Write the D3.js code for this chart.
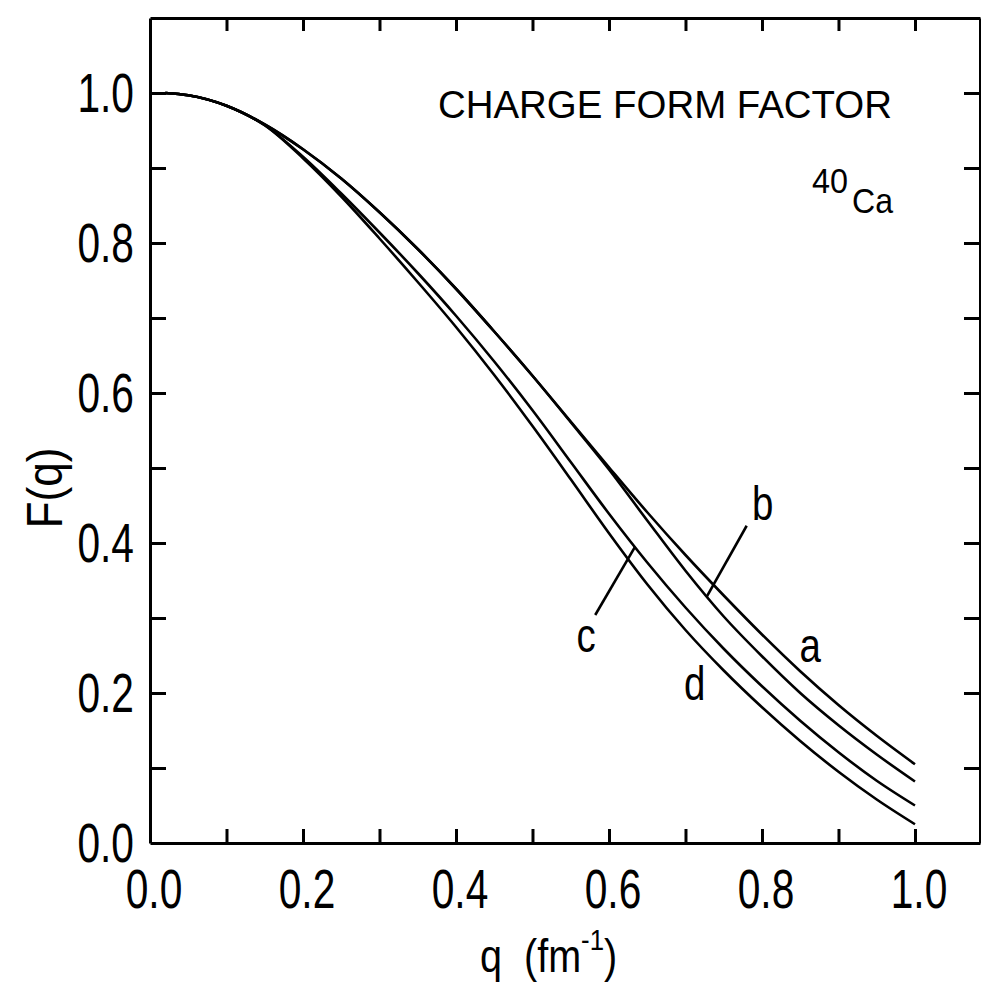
<!DOCTYPE html>
<html>
<head>
<meta charset="utf-8">
<script src="https://cdn.jsdelivr.net/npm/d3@7/dist/d3.min.js"></script>
<style>
  html, body { margin: 0; padding: 0; background: #fff; }
  svg { display: block; }
  text { font-family: "Liberation Sans", Arial, sans-serif; fill: #000; }
</style>
</head>
<body>
<svg id="chart" width="981" height="982"></svg>
<script>
// ---------------- data ----------------
const qValues = [0.02, 0.05, 0.10, 0.15, 0.20, 0.25, 0.30, 0.35, 0.40, 0.45, 0.50,
                 0.55, 0.60, 0.65, 0.70, 0.75, 0.80, 0.85, 0.90, 0.95, 1.00];
const curveA = [1.000, 0.997, 0.983, 0.958, 0.925, 0.886, 0.841, 0.792, 0.739, 0.682, 0.623,
                0.562, 0.501, 0.441, 0.384, 0.330, 0.278, 0.229, 0.184, 0.143, 0.105];
const curveB = [1.000, 0.997, 0.983, 0.958, 0.925, 0.886, 0.841, 0.792, 0.739, 0.682, 0.623,
                0.561, 0.498, 0.430, 0.363, 0.302, 0.249, 0.200, 0.157, 0.118, 0.082];
const curveC = [1.000, 0.997, 0.983, 0.957, 0.915, 0.866, 0.814, 0.760, 0.703, 0.642, 0.577,
                0.508, 0.439, 0.374, 0.314, 0.259, 0.209, 0.163, 0.121, 0.083, 0.050];
const curveD = [1.000, 0.997, 0.983, 0.957, 0.913, 0.862, 0.806, 0.748, 0.688, 0.624, 0.556,
                0.485, 0.413, 0.345, 0.284, 0.230, 0.181, 0.136, 0.095, 0.058, 0.025];
const seriesNames = ["a", "b", "c", "d"];

const xTickValues = [0.1, 0.2, 0.3, 0.4, 0.5, 0.6, 0.7, 0.8, 0.9, 1.0];
const xLabelValues = [0.0, 0.2, 0.4, 0.6, 0.8, 1.0];
const xLabelTexts = ["0.0", "0.2", "0.4", "0.6", "0.8", "1.0"];
const yTickValues = [0.1, 0.2, 0.3, 0.4, 0.5, 0.6, 0.7, 0.8, 0.9, 1.0];
const yLabelValues = [0.0, 0.2, 0.4, 0.6, 0.8, 1.0];
const yLabelTexts = ["0.0", "0.2", "0.4", "0.6", "0.8", "1.0"];

// curve label positions (data units) and leader lines
const labelPos = [
  {name: "a", q: 0.863, f: 0.241},
  {name: "b", q: 0.801, f: 0.431},
  {name: "c", q: 0.570, f: 0.255},
  {name: "d", q: 0.712, f: 0.191}
];
const leaders = [
  {series: "b", fromQ: 0.780, fromF: 0.423, toQ: 0.728},
  {series: "c", fromQ: 0.582, fromF: 0.304, toQ: 0.634}
];

// ---------------- drawing ----------------
const svg = d3.select("#chart");
svg.append("rect").attr("width", 981).attr("height", 982).attr("fill", "#fff");

const x = d3.scaleLinear().domain([0, 1.085]).range([150, 980]);
const y = d3.scaleLinear().domain([0, 1.1]).range([843, 18]);

const seriesData = {a: curveA, b: curveB, c: curveC, d: curveD};
const line = d3.line()
  .x(d => x(d[0])).y(d => y(d[1]))
  .curve(d3.curveMonotoneX);

function pointsOf(name) { return qValues.map((q, i) => [q, seriesData[name][i]]); }
function interp(name, q) {
  const arr = seriesData[name];
  for (let i = 0; i < qValues.length - 1; i++) {
    if (q >= qValues[i] && q <= qValues[i + 1]) {
      const t = (q - qValues[i]) / (qValues[i + 1] - qValues[i]);
      return arr[i] + t * (arr[i + 1] - arr[i]);
    }
  }
  return arr[arr.length - 1];
}

// axes (frame with inward ticks)
const axisStyle = g => {
  g.selectAll("path.domain").attr("stroke", "#000").attr("stroke-width", 3);
  g.selectAll(".tick line").attr("stroke", "#000").attr("stroke-width", 3);
  g.selectAll(".tick text").remove();
};
svg.append("g").attr("transform", `translate(0,${y(0)})`)
  .call(d3.axisBottom(x).tickValues(xTickValues).tickSizeInner(-14).tickSizeOuter(0).tickFormat(""))
  .call(axisStyle);
svg.append("g").attr("transform", `translate(0,${y(1.1)})`)
  .call(d3.axisTop(x).tickValues(xTickValues).tickSizeInner(-13).tickSizeOuter(0).tickFormat(""))
  .call(axisStyle);
svg.append("g").attr("transform", `translate(${x(0)},0)`)
  .call(d3.axisLeft(y).tickValues(yTickValues).tickSizeInner(-16).tickSizeOuter(0).tickFormat(""))
  .call(axisStyle);
svg.append("g").attr("transform", `translate(${x(1.085)},0)`)
  .call(d3.axisRight(y).tickValues(yTickValues).tickSizeInner(-16).tickSizeOuter(0).tickFormat(""))
  .call(axisStyle);

// tick labels (condensed)
svg.append("g").selectAll("text").data(xLabelValues).join("text")
  .attr("transform", d => `translate(${x(d) + 4},908) scale(0.74,1)`)
  .attr("text-anchor", "middle")
  .attr("font-size", 55)
  .text((d, i) => xLabelTexts[i]);
svg.append("g").selectAll("text").data(yLabelValues).join("text")
  .attr("transform", d => `translate(134,${y(d) + 19}) scale(0.74,1)`)
  .attr("text-anchor", "end")
  .attr("font-size", 55)
  .text((d, i) => yLabelTexts[i]);

// axis titles
svg.append("text")
  .attr("transform", "translate(62,488) rotate(-90) scale(0.88,1)")
  .attr("text-anchor", "middle")
  .attr("font-size", 50)
  .text("F(q)");
const xt = svg.append("text")
  .attr("transform", "translate(480,972) scale(0.86,1)")
  .attr("text-anchor", "start")
  .attr("font-size", 46);
xt.append("tspan").text("q\u00A0\u00A0(fm");
xt.append("tspan").attr("font-size", 30).attr("dy", -22).text("-1");
xt.append("tspan").attr("dy", 22).text(")");

// title and nucleus
svg.append("text")
  .attr("x", 438).attr("y", 118)
  .attr("font-size", 39)
  .attr("textLength", 454).attr("lengthAdjust", "spacingAndGlyphs")
  .text("CHARGE FORM FACTOR");
svg.append("text").attr("x", 812).attr("y", 193).attr("font-size", 35)
  .attr("textLength", 36).attr("lengthAdjust", "spacingAndGlyphs").text("40");
svg.append("text").attr("x", 852).attr("y", 213).attr("font-size", 35)
  .attr("textLength", 41).attr("lengthAdjust", "spacingAndGlyphs").text("Ca");

// curves
svg.append("g").selectAll("path").data(seriesNames).join("path")
  .attr("d", n => line(pointsOf(n)))
  .attr("fill", "none")
  .attr("stroke", "#000")
  .attr("stroke-width", 2.6)
  .attr("stroke-linejoin", "round");

// leader lines
svg.append("g").selectAll("line").data(leaders).join("line")
  .attr("x1", d => x(d.fromQ)).attr("y1", d => y(d.fromF))
  .attr("x2", d => x(d.toQ)).attr("y2", d => y(interp(d.series, d.toQ)))
  .attr("stroke", "#000").attr("stroke-width", 2.6);

// curve labels
svg.append("g").selectAll("text").data(labelPos).join("text")
  .attr("transform", d => `translate(${x(d.q)},${y(d.f)}) scale(0.8,1)`)
  .attr("text-anchor", "middle")
  .attr("font-size", 48)
  .text(d => d.name);
</script>
</body>
</html>
